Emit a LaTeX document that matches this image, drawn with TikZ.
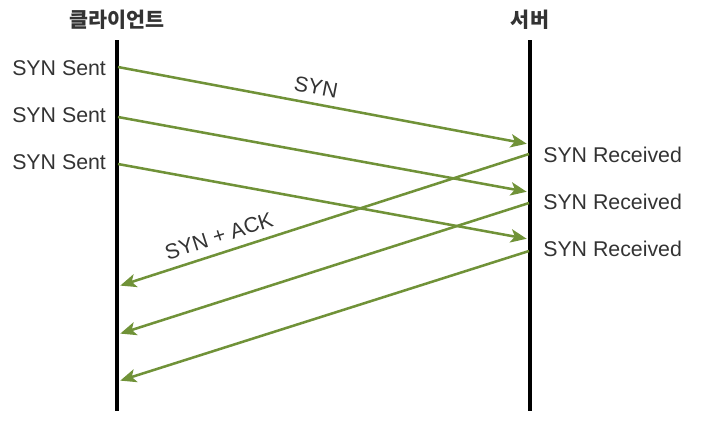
\documentclass[tikz,border=0pt]{standalone}
\usepackage{fontspec}
\setmainfont{Liberation Sans}
\newfontfamily\kr{Noto Sans CJK KR}
\usetikzlibrary{arrows.meta}
\definecolor{arrowgreen}{RGB}{112,146,56}
\definecolor{txt}{RGB}{51,51,51}
\tikzset{
  lifeline/.style={line width=2.6pt, black},
  msg/.style={line width=1.9pt, arrowgreen, -{Stealth[length=12pt,width=10pt,inset=3pt]}, shorten >=1pt},
  lbl/.style={font=\fontsize{16}{19}\selectfont, text=txt, inner sep=0pt},
  head/.style={font=\kr\bfseries\fontsize{15.5}{18}\selectfont, text=txt, inner sep=0pt},
}
\begin{document}
\begin{tikzpicture}[x=0.75pt,y=-0.75pt]
\useasboundingbox (0,0) rectangle (717,430);
% headers
\node[head] (client) at (117,20) {클라이언트};
\node[head] (server) at (530,20) {서버};
% lifelines
\coordinate (ctop) at (117,40);
\coordinate (cbot) at (117,411);
\coordinate (stop) at (530,40);
\coordinate (sbot) at (530,411);
\draw[lifeline] (ctop) -- (cbot);
\draw[lifeline] (stop) -- (sbot);
% left labels
\node[lbl, anchor=west] (s1) at (12,68) {SYN Sent};
\node[lbl, anchor=west] (s2) at (12,115) {SYN Sent};
\node[lbl, anchor=west] (s3) at (12,162) {SYN Sent};
% right labels
\node[lbl, anchor=west] (r1) at (543,155) {SYN Received};
\node[lbl, anchor=west] (r2) at (543,202) {SYN Received};
\node[lbl, anchor=west] (r3) at (543,249) {SYN Received};
% endpoints
\coordinate (a1) at (118,67);
\coordinate (a2) at (118,117);
\coordinate (a3) at (118,164);
\coordinate (b1) at (528,144);
\coordinate (b2) at (528,192);
\coordinate (b3) at (528,239);
\coordinate (c1) at (529,154);
\coordinate (c2) at (529,203);
\coordinate (c3) at (529,251);
\coordinate (d1) at (119,286);
\coordinate (d2) at (119,334);
\coordinate (d3) at (119,381);
% SYN arrows
\draw[msg] (a1) -- (b1);
\draw[msg] (a2) -- (b2);
\draw[msg] (a3) -- (b3);
% SYN+ACK arrows
\draw[msg] (c1) -- (d1);
\draw[msg] (c2) -- (d2);
\draw[msg] (c3) -- (d3);
% arrow labels
\node[lbl, rotate=-10.8] (synl) at (316,87) {SYN};
\node[lbl, rotate=18] (ackl) at (219,236) {SYN + ACK};
\end{tikzpicture}
\end{document}
